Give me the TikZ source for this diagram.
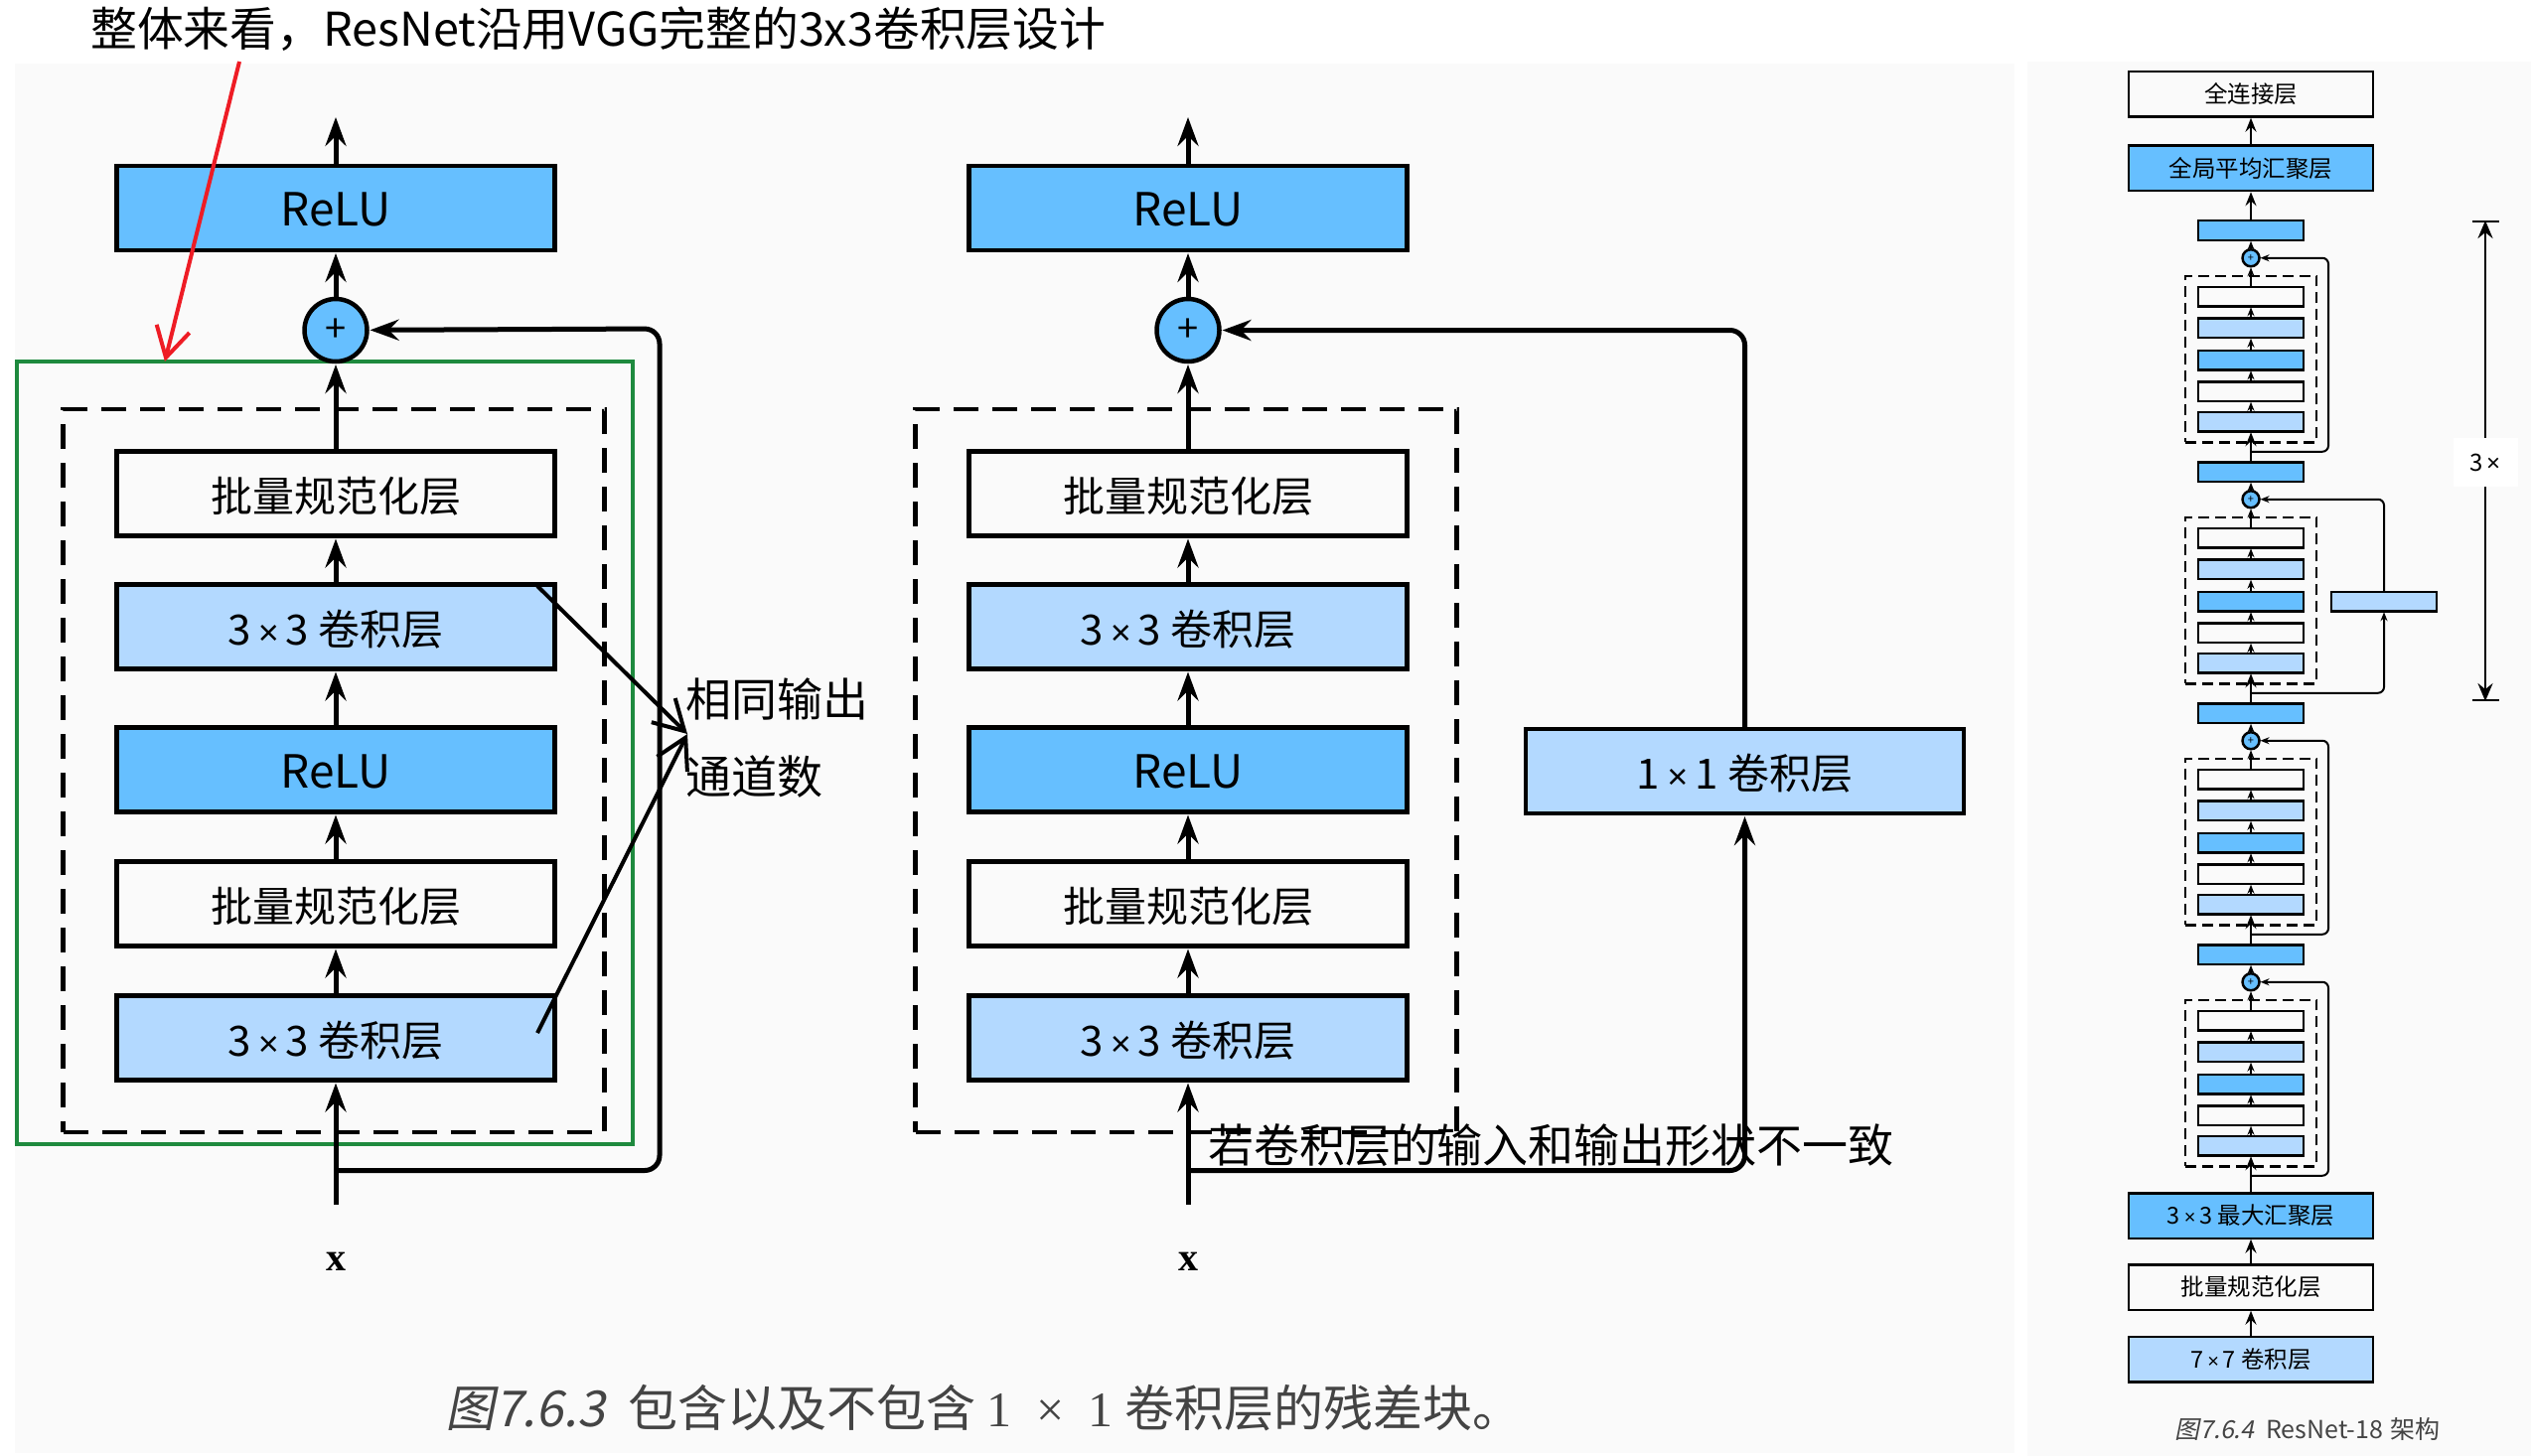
\documentclass[tikz,border=0pt]{standalone}
\usepackage{fontspec}
\setmainfont{Noto Sans CJK SC}
\newfontfamily\slantfont[FakeSlant=0.2]{Noto Sans CJK SC}
\newfontfamily\crossfont{Liberation Sans}
\newfontfamily\serifont{Liberation Serif}
\usetikzlibrary{positioning,arrows.meta,fit}
\definecolor{darkblue}{HTML}{66BFFF}
\definecolor{lightblue}{HTML}{B3D9FF}
\definecolor{panel}{HTML}{FAFAFA}
\definecolor{boxgreen}{HTML}{1E8A3E}
\definecolor{markred}{HTML}{EE1C25}
\definecolor{capgray}{HTML}{444444}
\newcommand{\bysign}{\hspace{7pt}{\crossfont\fontsize{36pt}{36pt}\selectfont ×}\hspace{7pt}}
\newcommand{\smallby}{\hspace{4pt}{\crossfont\fontsize{20pt}{20pt}\selectfont ×}\hspace{4pt}}
\tikzset{basic/.style={draw,line width=4.5pt,minimum width=441pt,minimum height=85pt,inner sep=0pt,outer sep=0pt,text height=42pt,text depth=6pt,font=\fontsize{42pt}{50pt}\selectfont}}
\tikzset{relubox/.style={basic,fill=darkblue,font=\fontsize{46pt}{50pt}\selectfont}}
\tikzset{convbox/.style={basic,fill=lightblue}}
\tikzset{normbox/.style={basic}}
\tikzset{plusnode/.style={draw,circle,line width=4.5pt,fill=darkblue,minimum size=63pt,inner sep=0pt,outer sep=0pt,font=\fontsize{38pt}{38pt}\selectfont}}
\tikzset{dashbox/.style={draw,line width=4.5pt,dash pattern=on 25pt off 14pt,minimum width=545pt,minimum height=728pt,outer sep=0pt}}
\tikzset{arrow/.style={line width=5pt,shorten >=3pt,-{Stealth[length=29pt,width=21pt,inset=10pt]}}}
\tikzset{skiparrow/.style={arrow,rounded corners=15pt}}
\tikzset{barbarrow/.style={line width=4pt,-{Straight Barb[length=30pt,width=34pt]}}}
\tikzset{varlabel/.style={inner sep=0pt,font=\serifont\bfseries\fontsize{40pt}{40pt}\selectfont}}
\tikzset{notetext/.style={anchor=west,inner sep=0pt,font=\fontsize{46pt}{50pt}\selectfont}}
\tikzset{tinybox/.style={draw,line width=2.5pt,minimum width=106pt,minimum height=19.5pt,inner sep=0pt,outer sep=0pt}}
\tikzset{widebox/.style={draw,line width=2.5pt,minimum width=246pt,minimum height=45.5pt,inner sep=0pt,outer sep=0pt,font=\fontsize{23.5pt}{26pt}\selectfont}}
\tikzset{tinyplus/.style={draw,circle,line width=2.5pt,fill=darkblue,minimum size=17pt,inner sep=0pt,outer sep=0pt,font=\fontsize{11pt}{11pt}\selectfont}}
\tikzset{tinydash/.style={draw,line width=2.5pt,dash pattern=on 11pt off 6pt,inner xsep=13pt,inner ysep=11pt,outer sep=0pt}}
\tikzset{tinyarrow/.style={line width=2pt,shorten >=1pt,-{Stealth[length=9pt,width=7pt,inset=3pt]}}}
\tikzset{midarrow/.style={line width=2.5pt,shorten >=1pt,-{Stealth[length=14pt,width=11pt,inset=5pt]}}}

\newcommand{\resstack}[2]{
        \node[dashbox] (#1dash) at (#2-2,776) {};
        \node[convbox] (#1conv1) at (#2,1045) {3\bysign 3 卷积层};
        \node[normbox,above=50pt of #1conv1] (#1norm1) {批量规范化层};
        \node[relubox,above=50pt of #1norm1] (#1relu1) {ReLU};
        \node[convbox,above=59pt of #1relu1] (#1conv2) {3\bysign 3 卷积层};
        \node[normbox,above=49pt of #1conv2] (#1norm2) {批量规范化层};
        \node[plusnode,above=90.5pt of #1norm2] (#1plus) {+};
        \node[relubox,above=49pt of #1plus] (#1relu2) {ReLU};
        \coordinate[above=52pt of #1relu2] (#1out);
        \node[varlabel] (#1x) at (#2,1270) {x};
        \coordinate[above=48pt of #1x] (#1in);
        \coordinate[below=91pt of #1conv1] (#1join);
            \path[draw,arrow] (#1in) -- (#1conv1);
            \path[draw,arrow] (#1conv1) -- (#1norm1);
            \path[draw,arrow] (#1norm1) -- (#1relu1);
            \path[draw,arrow] (#1relu1) -- (#1conv2);
            \path[draw,arrow] (#1conv2) -- (#1norm2);
            \path[draw,arrow] (#1norm2) -- (#1plus);
            \path[draw,arrow] (#1plus) -- (#1relu2);
            \path[draw,arrow] (#1relu2) -- (#1out);
}
\newcommand{\tinystack}[3]{
        \node[tinybox,fill=lightblue,above=#3 of #2] (#1conv1) {};
        \node[tinybox,above=11pt of #1conv1] (#1norm1) {};
        \node[tinybox,fill=darkblue,above=12pt of #1norm1] (#1relu) {};
        \node[tinybox,fill=lightblue,above=13pt of #1relu] (#1conv2) {};
        \node[tinybox,above=12pt of #1conv2] (#1norm2) {};
        \node[tinydash,fit=(#1conv1)(#1norm2)] (#1dash) {};
        \node[tinyplus,above=20.5pt of #1norm2] (#1plus) {+};
        \coordinate[below=20.5pt of #1conv1] (#1join);
            \path[draw,tinyarrow] (#1conv1) -- (#1norm1);
            \path[draw,tinyarrow] (#1norm1) -- (#1relu);
            \path[draw,tinyarrow] (#1relu) -- (#1conv2);
            \path[draw,tinyarrow] (#1conv2) -- (#1norm2);
            \path[draw,tinyarrow] (#1norm2) -- (#1plus);
}

\begin{document}
\begin{tikzpicture}[x=1pt,y=-1pt]
        \useasboundingbox (0,0) rectangle (2548,1466);
        \fill[panel] (15,64) rectangle (2028,1463);
        \fill[panel] (2041,62) rectangle (2548,1466);
        \node[notetext,font=\fontsize{46.8pt}{50pt}\selectfont] (title) at (91,29) {整体来看，ResNet沿用VGG完整的3x3卷积层设计};
        \node[draw=boxgreen,line width=4pt,minimum width=620pt,minimum height=788pt,outer sep=0pt] (green) at (326.5,758) {};
        \resstack{l}{338}
        \resstack{r}{1196}
        \coordinate (lturn) at (664,331);
            \path[draw,skiparrow] (ljoin) -| (lturn) -- (lplus);
        \node[convbox,right=119.5pt of rrelu1,yshift=-1.5pt] (rshort) {1\bysign 1 卷积层};
            \path[draw,skiparrow] (rjoin) -| (rshort);
            \path[draw,skiparrow] (rshort) |- (rplus);
        \coordinate (redfrom) at (241,62);
        \coordinate (redto) at (166,364);
            \path[draw,barbarrow,draw=markred] (redfrom) -- (redto);
        \node[notetext] (same1) at (690,704) {相同输出};
        \node[notetext] (same2) at (690,782) {通道数};
        \coordinate (notetip) at (692,739);
        \coordinate (notefrom1) at (541,590);
        \coordinate (notefrom2) at (541,1040);
            \path[draw,barbarrow] (notefrom1) -- (notetip);
            \path[draw,barbarrow] (notefrom2) -- (notetip);
        \node[notetext] (mismatch) at (1216,1153.5) {若卷积层的输入和输出形状不一致};
        \node[anchor=west,inner sep=0pt,text=capgray,font=\fontsize{50pt}{56pt}\selectfont] (cap1) at (448,1418) {{\slantfont 图7.6.3}\hspace{12pt} 包含以及不包含 {\serifont 1\hspace{12pt} × \hspace{12pt}1} 卷积层的残差块。};
        \node[widebox,fill=lightblue] (first) at (2266,1368.5) {7\smallby 7 卷积层};
        \node[widebox,above=27pt of first] (firstnorm) {批量规范化层};
        \node[widebox,fill=darkblue,above=26.5pt of firstnorm] (maxpool) {3\smallby 3 最大汇聚层};
            \path[draw,midarrow] (first) -- (firstnorm);
            \path[draw,midarrow] (firstnorm) -- (maxpool);
        \tinystack{a}{maxpool}{38pt}
        \node[tinybox,fill=darkblue,above=9.5pt of aplus] (adown) {};
        \tinystack{b}{adown}{31pt}
        \node[tinybox,fill=darkblue,above=9.5pt of bplus] (bdown) {};
        \tinystack{c}{bdown}{31pt}
        \node[tinybox,fill=darkblue,above=9.5pt of cplus] (cdown) {};
        \tinystack{d}{cdown}{31pt}
        \node[tinybox,fill=darkblue,above=9.5pt of dplus] (ddown) {};
        \node[widebox,fill=darkblue,above=30pt of ddown] (avgpool) {全局平均汇聚层};
        \node[widebox,above=29pt of avgpool] (dense) {全连接层};
        \node[tinybox,fill=lightblue,right=28pt of crelu] (cshort) {};
            \path[draw,midarrow] (maxpool) -- (aconv1);
            \path[draw,tinyarrow] (aplus) -- (adown);
            \path[draw,midarrow] (adown) -- (bconv1);
            \path[draw,tinyarrow] (bplus) -- (bdown);
            \path[draw,midarrow] (bdown) -- (cconv1);
            \path[draw,tinyarrow] (cplus) -- (cdown);
            \path[draw,midarrow] (cdown) -- (dconv1);
            \path[draw,tinyarrow] (dplus) -- (ddown);
            \path[draw,midarrow] (ddown) -- (avgpool);
            \path[draw,midarrow] (avgpool) -- (dense);
        \coordinate[right=69.5pt of aplus] (aturn);
        \coordinate[right=69.5pt of bplus] (bturn);
        \coordinate[right=69.5pt of dplus] (dturn);
            \path[draw,tinyarrow,rounded corners=6pt] (ajoin) -| (aturn) -- (aplus);
            \path[draw,tinyarrow,rounded corners=6pt] (bjoin) -| (bturn) -- (bplus);
            \path[draw,tinyarrow,rounded corners=6pt] (cjoin) -| (cshort);
            \path[draw,tinyarrow,rounded corners=6pt] (cshort) |- (cplus);
            \path[draw,tinyarrow,rounded corners=6pt] (djoin) -| (dturn) -- (dplus);
        \coordinate (dimtop) at (2502,222);
        \coordinate (dimbot) at (2502,706);
            \path[draw,line width=2.5pt,{Bar[width=27pt]}-{Bar[width=27pt]}] (dimtop) -- (dimbot);
            \path[draw,line width=2.5pt,{Stealth[length=18pt,width=15pt,inset=6pt]}-{Stealth[length=18pt,width=15pt,inset=6pt]}] (dimtop) -- node[pos=0.503,fill=white,minimum width=65pt,minimum height=49pt,inner sep=0pt,font=\fontsize{24pt}{26pt}\selectfont] (dimlabel) {3\hspace{3pt}{\crossfont\fontsize{24pt}{24pt}\selectfont ×}} (dimbot);
        \node[inner sep=0pt,text=capgray,font=\fontsize{25pt}{28pt}\selectfont] (cap2) at (2323,1439) {{\slantfont 图7.6.4}\hspace{6pt} ResNet-18\hspace{2pt} 架构};
    \end{tikzpicture}
\end{document}
